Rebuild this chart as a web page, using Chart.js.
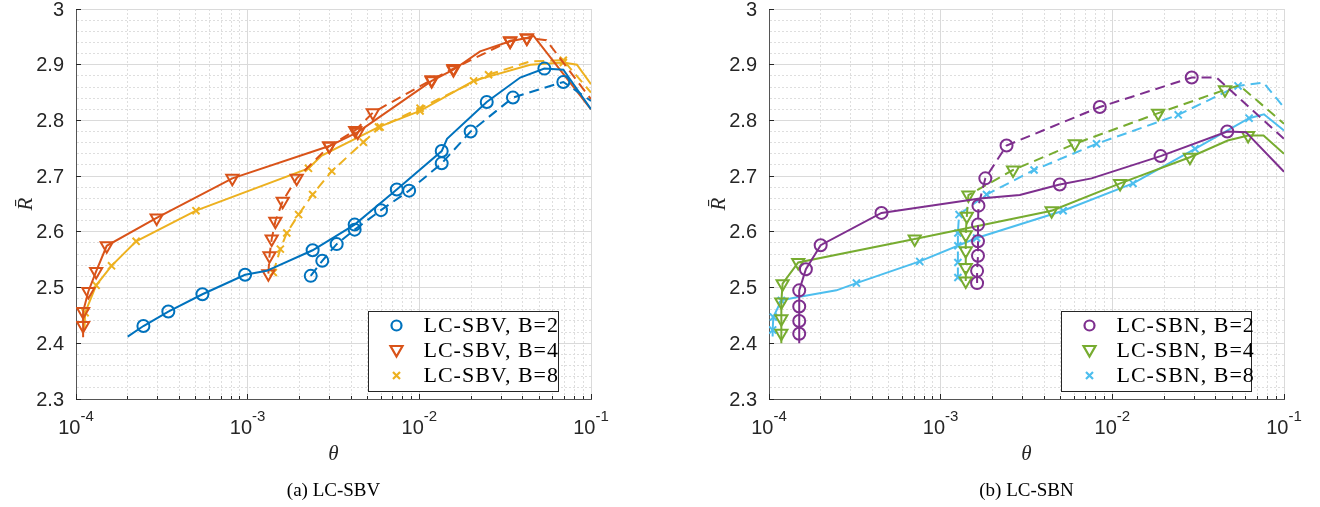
<!DOCTYPE html>
<html>
<head>
<meta charset="utf-8">
<script src="https://cdn.jsdelivr.net/npm/chart.js@4.4.1/dist/chart.umd.min.js"></script>
<style>
  body { margin: 0; background: #fff; width: 1320px; height: 507px; overflow: hidden; position: relative; }
  canvas { position: absolute; top: 0; }
  #sbv { left: 0; }
  #sbn { left: 693px; }
</style>
</head>
<body>
<canvas id="sbv" width="660" height="507"></canvas>
<canvas id="sbn" width="627" height="507"></canvas>
<script>
// ---- axes ----
var xDecades = [1e-4, 1e-3, 1e-2, 1e-1];
var xTickExps = ['-4', '-3', '-2', '-1'];
var yTickValues = [2.3, 2.4, 2.5, 2.6, 2.7, 2.8, 2.9, 3];
var yTickLabels = ['2.3', '2.4', '2.5', '2.6', '2.7', '2.8', '2.9', '3'];

// ---- (a) LC-SBV ----
var sbv2SolidTheta = [2.0e-4, 2.47e-4, 3.45e-4, 5.45e-4, 9.66e-4, 1.29e-3, 2.39e-3, 4.2e-3, 7.39e-3, 1.35e-2, 1.45e-2, 2.47e-2, 3.87e-2, 5.35e-2, 6.9e-2, 1e-1];
var sbv2SolidR     = [2.412, 2.431, 2.457, 2.488, 2.523, 2.530, 2.567, 2.613, 2.676, 2.745, 2.767, 2.833, 2.877, 2.893, 2.891, 2.820];
var sbv2SolidMark  = [0, 1, 1, 1, 1, 0, 1, 1, 1, 1, 0, 1, 0, 1, 0, 0];

var sbv2DashTheta = [2.33e-3, 2.72e-3, 3.3e-3, 4.2e-3, 5.98e-3, 8.72e-3, 1.35e-2, 1.99e-2, 3.51e-2, 6.9e-2, 1e-1];
var sbv2DashR     = [2.521, 2.548, 2.578, 2.604, 2.639, 2.674, 2.723, 2.780, 2.841, 2.869, 2.835];
var sbv2DashMark  = [1, 1, 1, 1, 1, 1, 1, 1, 1, 1, 0];

var sbv4SolidTheta = [1.1e-4, 1.1e-4, 1.1e-4, 1.18e-4, 1.31e-4, 1.51e-4, 2.95e-4, 8.14e-4, 2.99e-3, 4.38e-3, 1.18e-2, 1.58e-2, 2.26e-2, 3.38e-2, 4.23e-2, 4.62e-2, 1e-1];
var sbv4SolidR     = [2.411, 2.432, 2.457, 2.493, 2.529, 2.575, 2.625, 2.696, 2.754, 2.779, 2.871, 2.891, 2.924, 2.942, 2.948, 2.952, 2.820];
var sbv4SolidMark  = [0, 1, 1, 1, 1, 1, 1, 1, 1, 1, 1, 1, 0, 1, 1, 0, 0];

var sbv4DashTheta = [1.32e-3, 1.34e-3, 1.38e-3, 1.45e-3, 1.6e-3, 1.93e-3, 2.99e-3, 4.23e-3, 5.36e-3, 1.18e-2, 1.58e-2, 3.38e-2, 4.23e-2, 5.5e-2, 1e-1];
var sbv4DashR     = [2.525, 2.557, 2.587, 2.619, 2.655, 2.696, 2.754, 2.782, 2.814, 2.873, 2.893, 2.943, 2.948, 2.944, 2.838];
var sbv4DashMark  = [1, 1, 1, 1, 1, 1, 1, 1, 1, 1, 1, 1, 1, 0, 0];

var sbv8SolidTheta = [1.12e-4, 1.13e-4, 1.31e-4, 1.61e-4, 2.24e-4, 5e-4, 2.26e-3, 2.7e-3, 5.78e-3, 1.01e-2, 2.07e-2, 4.43e-2, 6.9e-2, 8.28e-2, 1e-1];
var sbv8SolidR     = [2.425, 2.455, 2.504, 2.539, 2.583, 2.638, 2.714, 2.737, 2.788, 2.817, 2.871, 2.900, 2.904, 2.900, 2.865];
var sbv8SolidMark  = [0, 1, 1, 1, 1, 1, 1, 0, 1, 1, 1, 0, 1, 0, 0];

var sbv8DashTheta = [1.41e-3, 1.55e-3, 1.69e-3, 1.98e-3, 2.39e-3, 3.09e-3, 4.72e-3, 5.91e-3, 1.01e-2, 2.53e-2, 4.43e-2, 6.9e-2, 1e-1];
var sbv8DashR     = [2.527, 2.569, 2.598, 2.631, 2.667, 2.709, 2.761, 2.788, 2.822, 2.882, 2.906, 2.908, 2.850];
var sbv8DashMark  = [1, 1, 1, 1, 1, 1, 1, 1, 1, 1, 0, 1, 0];

// ---- (b) LC-SBN ----
var sbn2SolidTheta = [1.5e-4, 1.5e-4, 1.5e-4, 1.5e-4, 1.5e-4, 1.64e-4, 2.0e-4, 4.52e-4, 1.69e-3, 2.89e-3, 4.94e-3, 7.57e-3, 1.91e-2, 4.67e-2, 6.0e-2, 1e-1];
var sbn2SolidR     = [2.400, 2.417, 2.440, 2.466, 2.495, 2.533, 2.576, 2.634, 2.660, 2.666, 2.685, 2.696, 2.736, 2.780, 2.779, 2.708];
var sbn2SolidMark  = [0, 1, 1, 1, 1, 1, 1, 1, 0, 0, 1, 0, 1, 1, 0, 0];

var sbn2DashTheta = [1.63e-3, 1.63e-3, 1.65e-3, 1.65e-3, 1.65e-3, 1.66e-3, 1.82e-3, 2.42e-3, 8.45e-3, 2.9e-2, 4.05e-2, 1e-1];
var sbn2DashR     = [2.508, 2.530, 2.557, 2.583, 2.613, 2.647, 2.696, 2.755, 2.824, 2.877, 2.877, 2.767];
var sbn2DashMark  = [1, 1, 1, 1, 1, 1, 1, 1, 1, 1, 0, 0];

var sbn4SolidTheta = [1.18e-4, 1.18e-4, 1.18e-4, 1.18e-4, 1.2e-4, 1.48e-4, 7.06e-4, 4.43e-3, 1.11e-2, 2.83e-2, 4.7e-2, 6.18e-2, 7.6e-2, 1e-1];
var sbn4SolidR     = [2.400, 2.418, 2.444, 2.474, 2.507, 2.545, 2.587, 2.638, 2.687, 2.734, 2.764, 2.773, 2.773, 2.740];
var sbn4SolidMark  = [0, 1, 1, 1, 1, 1, 1, 1, 1, 1, 0, 1, 0, 0];

var sbn4DashTheta = [1.40e-3, 1.40e-3, 1.40e-3, 1.40e-3, 1.42e-3, 1.45e-3, 2.64e-3, 6.04e-3, 1.85e-2, 4.53e-2, 5.5e-2, 1e-1];
var sbn4DashR     = [2.512, 2.536, 2.566, 2.595, 2.628, 2.666, 2.711, 2.758, 2.813, 2.855, 2.863, 2.794];
var sbn4DashMark  = [1, 1, 1, 1, 1, 1, 1, 1, 1, 1, 0, 0];

var sbn8SolidTheta = [1.05e-4, 1.05e-4, 1.06e-4, 1.18e-4, 1.48e-4, 2.47e-4, 3.23e-4, 7.55e-4, 1.62e-3, 5.17e-3, 1.32e-2, 3.03e-2, 6.26e-2, 7.64e-2, 1e-1];
var sbn8SolidR     = [2.412, 2.424, 2.447, 2.477, 2.483, 2.495, 2.508, 2.547, 2.589, 2.638, 2.687, 2.749, 2.804, 2.811, 2.782];
var sbn8SolidMark  = [0, 1, 1, 1, 0, 0, 1, 1, 1, 1, 1, 1, 1, 0, 0];

var sbn8DashTheta = [1.26e-3, 1.26e-3, 1.26e-3, 1.26e-3, 1.28e-3, 1.85e-3, 3.5e-3, 8.09e-3, 2.42e-2, 5.4e-2, 7.6e-2, 1e-1];
var sbn8DashR     = [2.518, 2.545, 2.575, 2.598, 2.631, 2.667, 2.711, 2.758, 2.810, 2.862, 2.868, 2.823];
var sbn8DashMark  = [1, 1, 1, 1, 1, 1, 1, 1, 1, 1, 0, 0];

// MATLAB default colour order
var cBlue = '#0072BD', cRed = '#D95319', cYellow = '#EDB120';
var cPurple = '#7E2F8E', cGreen = '#77AC30', cCyan = '#4DBEEE';

var TICK_FONT = '"Liberation Sans", Arial, sans-serif';
var SERIF = '"Liberation Serif", "Times New Roman", serif';

function markerSize(style) {
    if (style === 'triangle') return 7;
    if (style === 'crossRot') return 5;
    return 6;
}

function lineSet(color, style, thetas, rs, marks, dashed) {
    return {
        data: thetas.map(function(t, i) { return {x: t, y: rs[i]}; }),
        borderColor: color,
        borderWidth: 2,
        borderDash: dashed ? [10, 6] : [],
        fill: false,
        tension: 0,
        pointStyle: style,
        pointRotation: style === 'triangle' ? 180 : 0,
        pointRadius: function(c) { return marks[c.dataIndex] ? markerSize(style) : 0; },
        pointBorderColor: color,
        pointBackgroundColor: 'rgba(0,0,0,0)',
        pointBorderWidth: 2
    };
}

function isMajorY(v) {
    return Math.round(v * 100) % 10 === 0;
}

function drawLegendMarker(ctx, style, color, x, y) {
    ctx.strokeStyle = color;
    ctx.lineWidth = 2.2;
    ctx.beginPath();
    if (style === 'circle') {
        ctx.arc(x, y, 5, 0, Math.PI * 2);
    } else if (style === 'triangle') {
        ctx.moveTo(x - 6, y - 4.5);
        ctx.lineTo(x + 6, y - 4.5);
        ctx.lineTo(x, y + 6);
        ctx.closePath();
    } else {
        ctx.moveTo(x - 3.5, y - 3.5); ctx.lineTo(x + 3.5, y + 3.5);
        ctx.moveTo(x + 3.5, y - 3.5); ctx.lineTo(x - 3.5, y + 3.5);
    }
    ctx.stroke();
}

// tick labels, axis titles, caption and legend in the MATLAB look
var decorate = {
    id: 'decorate',
    afterDraw: function(chart, args, o) {
        var ctx = chart.ctx, a = chart.chartArea;
        var xs = chart.scales.x, ys = chart.scales.y;
        ctx.save();

        // inward ticks
        ctx.strokeStyle = '#262626';
        ctx.lineWidth = 1;
        ctx.beginPath();
        xs.ticks.forEach(function(t) {
            var px = Math.round(xs.getPixelForValue(t.value) - 0.5) + 0.5;
            var len = xDecades.indexOf(t.value) >= 0 ? 5 : 3;
            ctx.moveTo(px, a.bottom);
            ctx.lineTo(px, a.bottom - len);
        });
        yTickValues.forEach(function(v) {
            var py = Math.round(ys.getPixelForValue(v) - 0.5) + 0.5;
            ctx.moveTo(a.left, py);
            ctx.lineTo(a.left + 5, py);
        });
        ctx.stroke();

        ctx.fillStyle = '#262626';
        ctx.font = '20px ' + TICK_FONT;
        ctx.textAlign = 'right';
        ctx.textBaseline = 'middle';
        yTickValues.forEach(function(v, i) {
            ctx.fillText(yTickLabels[i], a.left - 12, ys.getPixelForValue(v) + 1);
        });

        ctx.textAlign = 'left';
        ctx.textBaseline = 'alphabetic';
        xDecades.forEach(function(v, i) {
            var px = xs.getPixelForValue(v);
            ctx.font = '20px ' + TICK_FONT;
            var w1 = ctx.measureText('10').width;
            ctx.font = '15px ' + TICK_FONT;
            var w2 = ctx.measureText(xTickExps[i]).width;
            var x0 = px - (w1 + w2) / 2;
            ctx.font = '20px ' + TICK_FONT;
            ctx.fillText('10', x0, a.bottom + 35);
            ctx.font = '15px ' + TICK_FONT;
            ctx.fillText(xTickExps[i], x0 + w1, a.bottom + 22);
        });

        // axis titles
        ctx.fillStyle = '#262626';
        ctx.textAlign = 'center';
        ctx.textBaseline = 'middle';
        ctx.font = 'italic 21px ' + SERIF;
        ctx.fillText('\u03b8', (a.left + a.right) / 2, a.bottom + 55);
        ctx.save();
        ctx.translate(a.left - 50, (a.top + a.bottom) / 2);
        ctx.rotate(-Math.PI / 2);
        ctx.fillText('R\u0304', 0, 0);
        ctx.restore();

        // caption
        ctx.fillStyle = '#000';
        ctx.font = '19px ' + SERIF;
        ctx.fillText(o.caption, (a.left + a.right) / 2, a.bottom + 92);

        // legend box
        var bw = 190, bh = 80;
        var bx = Math.round(a.right - 33.5 - bw) + 0.5;
        var by = Math.round(a.bottom - 8.5 - bh) + 0.5;
        ctx.fillStyle = '#fff';
        ctx.fillRect(bx, by, bw, bh);
        ctx.strokeStyle = '#262626';
        ctx.lineWidth = 1;
        ctx.strokeRect(bx, by, bw, bh);
        ctx.font = '22px ' + SERIF;
        ctx.letterSpacing = '1px';
        ctx.textAlign = 'left';
        o.legend.forEach(function(item, i) {
            var cy = by + 14 + i * 25;
            drawLegendMarker(ctx, item.style, item.color, bx + 28, cy);
            ctx.fillStyle = '#000';
            ctx.fillText(item.label, bx + 55, cy + 1);
        });
        ctx.restore();
    }
};

function makeChart(id, datasets, padRight, caption, legend) {
    var ctx = document.getElementById(id).getContext('2d');
    return new Chart(ctx, {
        type: 'line',
        data: {datasets: datasets},
        plugins: [decorate],
        options: {
            responsive: false,
            animation: false,
            devicePixelRatio: 1,
            layout: {padding: {top: 5, right: padRight, left: 0, bottom: 0}},
            plugins: {
                legend: {display: false},
                tooltip: {enabled: false},
                decorate: {caption: caption, legend: legend}
            },
            scales: {
                x: {
                    type: 'logarithmic',
                    min: 1e-4,
                    max: 1e-1,
                    afterFit: function(s) { s.height = 108; },
                    afterBuildTicks: function(s) {
                        var t = [];
                        xDecades.forEach(function(d, i) {
                            if (i === xDecades.length - 1) { t.push({value: d}); return; }
                            for (var k = 1; k < 10; k++) t.push({value: k * d});
                        });
                        s.ticks = t;
                    },
                    ticks: {display: false},
                    grid: {
                        drawTicks: false,
                        color: function(c) { return xDecades.indexOf(c.tick && c.tick.value) >= 0 ? '#dadada' : '#dedede'; }
                    },
                    border: {
                        color: '#555',
                        dash: function(c) { return xDecades.indexOf(c.tick && c.tick.value) >= 0 ? [] : [2, 2]; }
                    }
                },
                y: {
                    type: 'linear',
                    min: 2.3,
                    max: 3,
                    afterFit: function(s) { s.width = 76; },
                    afterBuildTicks: function(s) {
                        var t = [];
                        for (var k = 0; k <= 35; k++) t.push({value: Math.round((2.3 + k * 0.02) * 100) / 100});
                        s.ticks = t;
                    },
                    ticks: {display: false},
                    grid: {
                        drawTicks: false,
                        color: function(c) { return c.tick && isMajorY(c.tick.value) ? '#dadada' : '#dedede'; }
                    },
                    border: {
                        color: '#555',
                        dash: function(c) { return c.tick && isMajorY(c.tick.value) ? [] : [2, 2]; }
                    }
                }
            }
        }
    });
}

makeChart('sbv', [
    lineSet(cBlue, 'circle', sbv2SolidTheta, sbv2SolidR, sbv2SolidMark, false),
    lineSet(cBlue, 'circle', sbv2DashTheta, sbv2DashR, sbv2DashMark, true),
    lineSet(cRed, 'triangle', sbv4SolidTheta, sbv4SolidR, sbv4SolidMark, false),
    lineSet(cRed, 'triangle', sbv4DashTheta, sbv4DashR, sbv4DashMark, true),
    lineSet(cYellow, 'crossRot', sbv8SolidTheta, sbv8SolidR, sbv8SolidMark, false),
    lineSet(cYellow, 'crossRot', sbv8DashTheta, sbv8DashR, sbv8DashMark, true)
], 69, '(a) LC-SBV', [
    {label: 'LC-SBV, B=2', color: cBlue, style: 'circle'},
    {label: 'LC-SBV, B=4', color: cRed, style: 'triangle'},
    {label: 'LC-SBV, B=8', color: cYellow, style: 'cross'}
]);

makeChart('sbn', [
    lineSet(cPurple, 'circle', sbn2SolidTheta, sbn2SolidR, sbn2SolidMark, false),
    lineSet(cPurple, 'circle', sbn2DashTheta, sbn2DashR, sbn2DashMark, true),
    lineSet(cGreen, 'triangle', sbn4SolidTheta, sbn4SolidR, sbn4SolidMark, false),
    lineSet(cGreen, 'triangle', sbn4DashTheta, sbn4DashR, sbn4DashMark, true),
    lineSet(cCyan, 'crossRot', sbn8SolidTheta, sbn8SolidR, sbn8SolidMark, false),
    lineSet(cCyan, 'crossRot', sbn8DashTheta, sbn8DashR, sbn8DashMark, true)
], 36, '(b) LC-SBN', [
    {label: 'LC-SBN, B=2', color: cPurple, style: 'circle'},
    {label: 'LC-SBN, B=4', color: cGreen, style: 'triangle'},
    {label: 'LC-SBN, B=8', color: cCyan, style: 'cross'}
]);
</script>
</body>
</html>
